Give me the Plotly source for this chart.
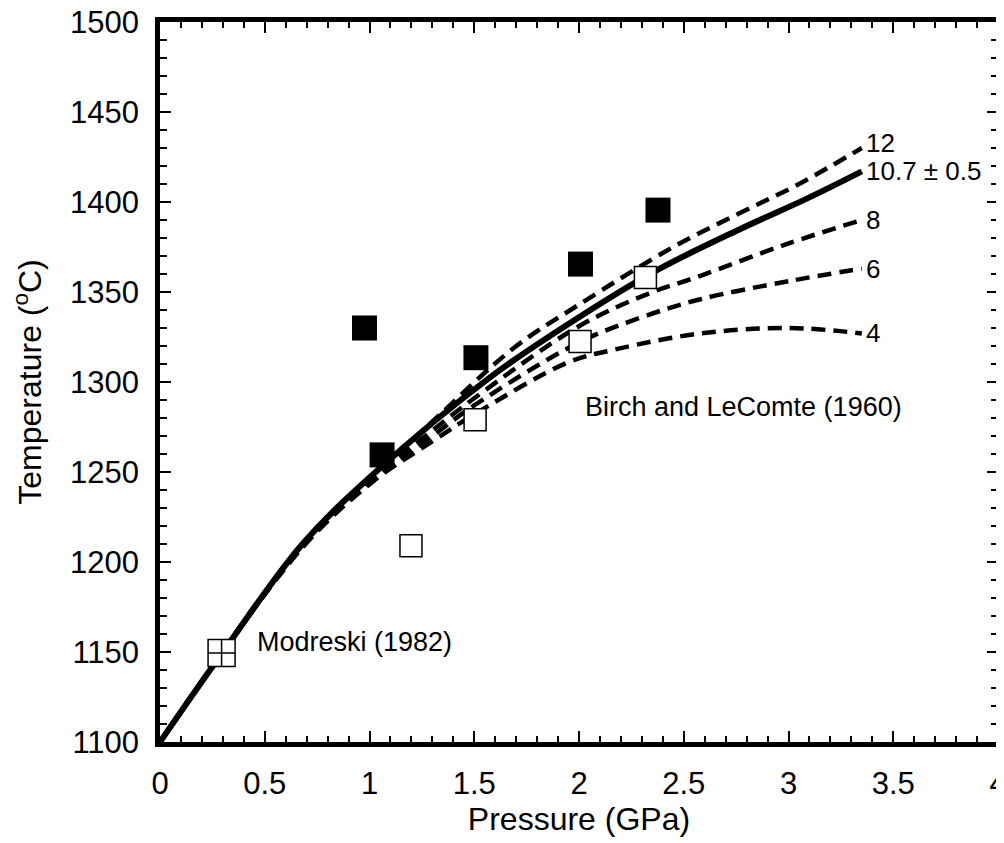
import plotly.graph_objects as go

# ---- data ----
solid_p = [0, 0.3, 0.68, 1.02, 1.58, 2.0, 2.37, 2.77, 3.09, 3.35]
solid_t = [1100, 1150, 1210, 1249, 1303, 1336, 1362, 1385, 1402, 1417]

p12 = [0, 0.68, 1.02, 1.3, 1.69, 2.0, 2.45, 2.77, 3.05, 3.35]
t12 = [1100, 1209, 1248, 1278, 1319, 1343, 1375, 1394, 1410, 1430]

p8 = [0, 0.68, 1.02, 1.3, 1.5, 2.0, 2.33, 2.58, 3.0, 3.35]
t8 = [1100, 1209, 1247, 1273, 1291, 1331, 1349, 1359, 1377, 1390]

p6 = [0, 0.68, 1.02, 1.3, 1.5, 2.0, 2.3, 2.58, 3.0, 3.35]
t6 = [1100, 1209, 1246, 1270, 1287, 1322, 1336, 1346, 1356, 1363]

p4 = [0, 0.68, 1.02, 1.3, 1.5, 1.95, 2.17, 2.58, 3.0, 3.35]
t4 = [1100, 1208, 1245, 1267, 1282, 1311, 1318, 1327, 1330, 1327]

filled_p = [0.976, 1.06, 1.508, 2.007, 2.377]
filled_t = [1330, 1259.5, 1313.5, 1365.5, 1395.5]

open_p = [1.198, 1.504, 2.005, 2.317]
open_t = [1209, 1279, 1322.5, 1358]

mod_p = [0.294]
mod_t = [1149.5]

curve_labels = ["12", "10.7 \u00b1 0.5", "8", "6", "4"]
label_t = [1433, 1417, 1390, 1363, 1327]

FONT = "Liberation Sans, Arial, sans-serif"

fig = go.Figure()

dash = "14px,8px"
for p, t in [(p4, t4), (p6, t6), (p8, t8), (p12, t12)]:
    fig.add_trace(go.Scatter(x=p, y=t, mode="lines",
                             line=dict(color="black", width=4.5, dash=dash, shape="spline", smoothing=1.0),
                             showlegend=False, hoverinfo="skip"))
fig.add_trace(go.Scatter(x=solid_p, y=solid_t, mode="lines",
                         line=dict(color="black", width=6, shape="spline", smoothing=1.0),
                         showlegend=False))

fig.add_trace(go.Scatter(x=filled_p, y=filled_t, mode="markers",
                         marker=dict(symbol="square", size=25, color="black", line=dict(width=0)),
                         showlegend=False))
fig.add_trace(go.Scatter(x=open_p, y=open_t, mode="markers",
                         marker=dict(symbol="square", size=22, color="white",
                                     line=dict(color="black", width=1.5)),
                         showlegend=False))
fig.add_trace(go.Scatter(x=mod_p, y=mod_t, mode="markers",
                         marker=dict(symbol="square-cross", size=27, color="white",
                                     line=dict(color="black", width=1.5)),
                         showlegend=False))

for lab, t in zip(curve_labels, label_t):
    fig.add_annotation(x=3.36, y=t, text=lab, showarrow=False, xanchor="left", yanchor="middle",
                       font=dict(family=FONT, size=26, color="black"))

fig.add_annotation(x=0.455, y=1155.5, text="Modreski (1982)", showarrow=False,
                   xanchor="left", yanchor="middle", font=dict(family=FONT, size=27, color="black"))
fig.add_annotation(x=2.02, y=1286, text="Birch and LeComte (1960)", showarrow=False,
                   xanchor="left", yanchor="middle", font=dict(family=FONT, size=27, color="black"))

axis_common = dict(showline=True, linewidth=4.5, linecolor="black", mirror="allticks",
                   ticks="inside", ticklen=11, tickwidth=2, tickcolor="black",
                   showgrid=False, zeroline=False, automargin=False,
                   ticklabeloverflow="allow",
                   tickfont=dict(family=FONT, size=31, color="black"))

fig.update_xaxes(range=[0, 4], dtick=0.5, tick0=0,
                 minor=dict(ticks="inside", ticklen=6, tickwidth=1.5, dtick=0.1, tickcolor="black", showgrid=False),
                 title=dict(text="Pressure (GPa)", font=dict(family=FONT, size=32, color="black"), standoff=2),
                 ticklabelstandoff=10,
                 **axis_common)
fig.update_yaxes(range=[1100, 1500], dtick=50, tick0=1100,
                 minor=dict(ticks="inside", ticklen=7, tickwidth=1.5, dtick=10, tickcolor="black", showgrid=False),
                 title=dict(text="Temperature (<sup>o</sup>C)", font=dict(family=FONT, size=32, color="black"), standoff=22),
                 ticklabelstandoff=10,
                 **axis_common)

# page body has an 8px margin, so the figure is offset by 8px
fig.update_layout(width=996, height=835,
                  margin=dict(l=152, r=6, t=14, b=101, pad=0),
                  plot_bgcolor="white", paper_bgcolor="white",
                  showlegend=False)

fig.write_html("out.html")
